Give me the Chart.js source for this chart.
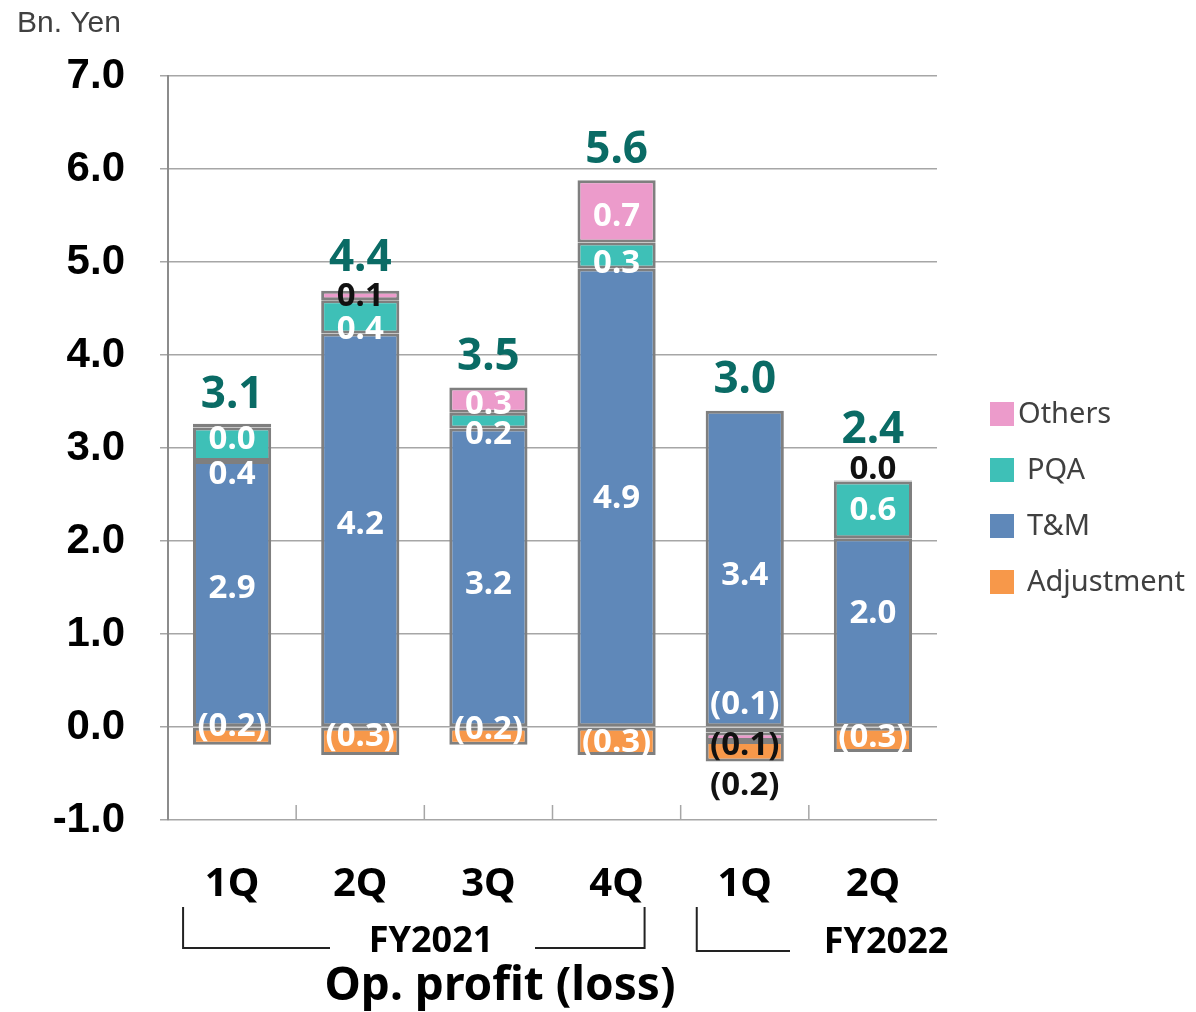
<!DOCTYPE html>
<html>
<head>
<meta charset="utf-8">
<script src="https://cdn.jsdelivr.net/npm/chart.js@4"></script>
<style>
  html, body { margin: 0; padding: 0; background: #fff; }
  #wrap { width: 1196px; height: 1012px; position: relative; }
</style>
</head>
<body>
<div id="wrap"><canvas id="opChart" width="1196" height="1012"></canvas></div>
<script>
// quarters and segment values (Bn. Yen)
const quarters = ['1Q', '2Q', '3Q', '4Q', '1Q', '2Q'];
const tmValues = [2.86, 4.23, 3.21, 4.93, 3.40, 2.03];
const pqaValues = [0.36, 0.36, 0.17, 0.28, -0.06, 0.61];
const othersValues = [0.04, 0.10, 0.27, 0.67, -0.09, 0.01];
const adjustValues = [-0.19, -0.30, -0.19, -0.30, -0.22, -0.27];
const yTicks = [-1, 0, 1, 2, 3, 4, 5, 6, 7];
const fiscalYears = ['FY2021', 'FY2022'];

const COLORS = {
    others: '#EC9BCB',
    pqa: '#3EC0B7',
    tm: '#5F88B9',
    adjust: '#F7984A',
    border: '#7F7F7F',
    total: '#0A6B65'
};

// label nudges in px (dataset order: T&M, PQA, Others, Adjustment)
const labelNudge = [
    [-5, -5, 7, 1, 7, -19],
    [30, 13, 14, 8, -26, 1],
    [14, 1, 4, 5, 9, -11],
    [-10, -5, -7, 1, 34, -2]
];
const labelDark = [
    [false, false, false, false, false, false],
    [false, false, false, false, false, false],
    [false, true, false, false, true, true],
    [false, false, false, false, true, false]
];
const totalNudge = [5, 1, 3, 3, 3, -17];

const fmt = v => {
    const s = Math.abs(v).toFixed(1);
    return v < 0 ? '(' + s + ')' : s;
};

const segmentLabels = {
    id: 'segmentLabels',
    afterDatasetsDraw(chart) {
        const ctx = chart.ctx;
        const y = chart.scales.y;
        ctx.save();
        ctx.textAlign = 'center';
        ctx.textBaseline = 'middle';
        ctx.font = 'bold 33px "Noto Sans"';
        chart.data.datasets.forEach((ds, di) => {
            const meta = chart.getDatasetMeta(di);
            meta.data.forEach((bar, i) => {
                const cy = (bar.y + bar.base) / 2 + labelNudge[di][i];
                ctx.fillStyle = labelDark[di][i] ? '#111' : '#fff';
                ctx.fillText(fmt(ds.data[i]), bar.x, cy);
            });
        });
        // totals above each bar
        ctx.font = 'bold 44px "Noto Sans"';
        ctx.fillStyle = COLORS.total;
        quarters.forEach((q, i) => {
            const vals = [tmValues[i], pqaValues[i], othersValues[i], adjustValues[i]];
            const total = vals.reduce((a, b) => a + b, 0);
            const top = vals.filter(v => v > 0).reduce((a, b) => a + b, 0);
            const x = chart.getDatasetMeta(0).data[i].x;
            ctx.fillText(total.toFixed(1), x, y.getPixelForValue(top) - 33 + totalNudge[i]);
        });
        ctx.restore();
    }
};

const decorations = {
    id: 'decorations',
    afterDraw(chart) {
        const ctx = chart.ctx;
        const area = chart.chartArea;
        const x = chart.scales.x;
        ctx.save();

        // category separators at the bottom of the plot
        ctx.strokeStyle = '#A6A6A6';
        ctx.lineWidth = 1.5;
        for (let i = 1; i < quarters.length; i++) {
            const bx = (x.getPixelForValue(i - 1) + x.getPixelForValue(i)) / 2;
            ctx.beginPath();
            ctx.moveTo(bx, area.bottom);
            ctx.lineTo(bx, area.bottom - 15);
            ctx.stroke();
        }

        // unit
        ctx.fillStyle = '#404040';
        ctx.font = '30px "Liberation Sans"';
        ctx.textAlign = 'left';
        ctx.textBaseline = 'middle';
        ctx.fillText('Bn. Yen', 17, 24);

        // fiscal year brackets
        const c0 = x.getPixelForValue(0), c3 = x.getPixelForValue(3), c4 = x.getPixelForValue(4);
        ctx.strokeStyle = '#222';
        ctx.lineWidth = 2;
        ctx.beginPath();
        ctx.moveTo(c0 - 49, 907); ctx.lineTo(c0 - 49, 948); ctx.lineTo(330, 948);
        ctx.moveTo(535, 948); ctx.lineTo(c3 + 28, 948); ctx.lineTo(c3 + 28, 907);
        ctx.moveTo(c4 - 48, 907); ctx.lineTo(c4 - 48, 951); ctx.lineTo(790, 951);
        ctx.stroke();

        ctx.fillStyle = '#000';
        ctx.textAlign = 'center';
        ctx.font = 'bold 36px "Noto Sans"';
        ctx.fillText(fiscalYears[0], 431, 942);
        ctx.fillText(fiscalYears[1], 886, 943);

        ctx.font = 'bold 46px "Noto Sans"';
        ctx.fillText('Op. profit (loss)', 500, 987);

        // legend
        const items = [
            ['Others', COLORS.others, 1018],
            ['PQA', COLORS.pqa, 1027],
            ['T&M', COLORS.tm, 1027],
            ['Adjustment', COLORS.adjust, 1027]
        ];
        ctx.font = '29px "Noto Sans"';
        ctx.textAlign = 'left';
        items.forEach((it, k) => {
            const top = 402 + k * 56;
            ctx.fillStyle = it[1];
            ctx.fillRect(990, top, 24, 24);
            ctx.fillStyle = '#404040';
            ctx.fillText(it[0], it[2], top + 13);
        });
        ctx.restore();
    }
};

const barStyle = {
    borderColor: COLORS.border,
    borderWidth: 3,
    borderSkipped: false,
    barPercentage: 0.61,
    categoryPercentage: 1.0
};

new Chart(document.getElementById('opChart'), {
    type: 'bar',
    data: {
        labels: quarters,
        datasets: [
            { label: 'T&M', data: tmValues, backgroundColor: COLORS.tm, ...barStyle },
            { label: 'PQA', data: pqaValues, backgroundColor: COLORS.pqa, ...barStyle },
            { label: 'Others', data: othersValues, backgroundColor: COLORS.others, ...barStyle },
            { label: 'Adjustment', data: adjustValues, backgroundColor: COLORS.adjust, ...barStyle }
        ]
    },
    options: {
        responsive: false,
        animation: false,
        layout: { padding: { left: 0, right: 259, top: 76, bottom: 0 } },
        plugins: {
            legend: { display: false },
            tooltip: { enabled: false }
        },
        scales: {
            x: {
                stacked: true,
                grid: { display: false },
                border: { display: false },
                ticks: {
                    color: '#000',
                    padding: 33,
                    font: { family: 'Noto Sans', size: 40, weight: 'bold' }
                },
                afterFit: s => { s.height = 192; }
            },
            y: {
                stacked: true,
                min: -1,
                max: 7,
                afterBuildTicks: s => { s.ticks = yTicks.map(v => ({ value: v })); },
                grid: { color: '#A6A6A6', lineWidth: 1.5, tickLength: 8 },
                border: { display: true, color: '#8C8C8C', width: 2 },
                ticks: {
                    color: '#000',
                    padding: 35,
                    font: { family: 'Liberation Sans', size: 42, weight: 'bold' },
                    callback: v => v.toFixed(1)
                },
                afterFit: s => { s.width = 168; }
            }
        }
    },
    plugins: [segmentLabels, decorations]
});
</script>
</body>
</html>
